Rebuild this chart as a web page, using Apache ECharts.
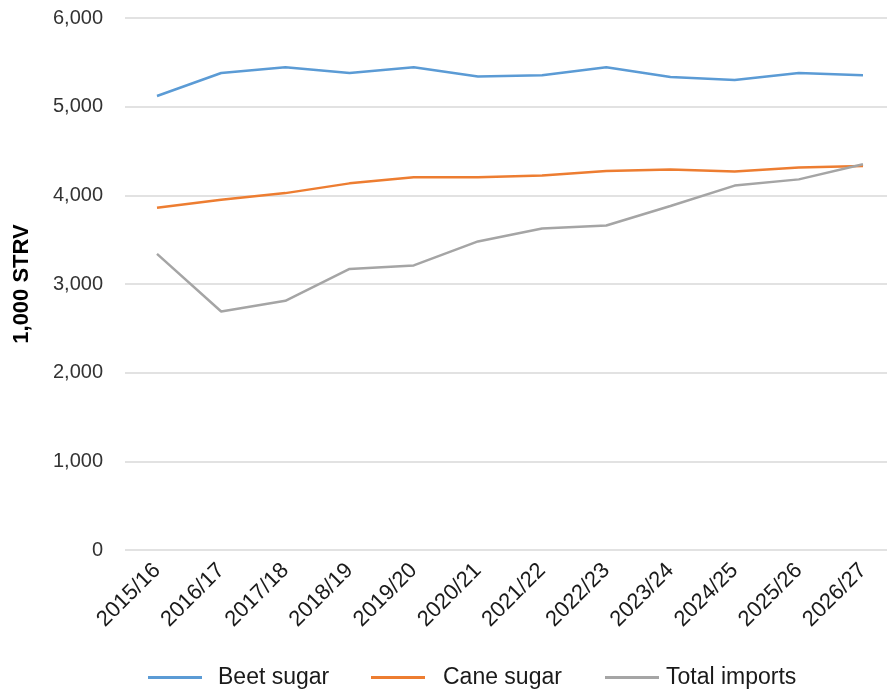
<!DOCTYPE html>
<html>
<head>
<meta charset="utf-8">
<script src="https://cdn.jsdelivr.net/npm/echarts@6/dist/echarts.min.js"></script>
<style>
  html, body { margin: 0; padding: 0; background: #ffffff; }
  #chart { width: 887px; height: 689px; }
</style>
</head>
<body>
<div id="chart"></div>
<script>
// Marketing years on the category axis
const years = ['2015/16', '2016/17', '2017/18', '2018/19', '2019/20', '2020/21',
               '2021/22', '2022/23', '2023/24', '2024/25', '2025/26', '2026/27'];

// Supply components, 1,000 short tons raw value
const beetSugar    = [5120, 5380, 5445, 5380, 5445, 5340, 5355, 5445, 5335, 5300, 5380, 5355];
const caneSugar    = [3860, 3950, 4025, 4135, 4205, 4205, 4225, 4275, 4290, 4270, 4315, 4330];
const totalImports = [3340, 2690, 2810, 3170, 3210, 3480, 3625, 3660, 3880, 4110, 4180, 4350];

// Value-axis ticks
const yTicks = [0, 1000, 2000, 3000, 4000, 5000, 6000];

const seriesNames = ['Beet sugar', 'Cane sugar', 'Total imports'];
const seriesColors = ['#5B9BD5', '#ED7D31', '#A5A5A5'];
const seriesData = [beetSugar, caneSugar, totalImports];

// Legend entries are laid out individually along the bottom
const legendLeft = [143, 366, 600];
const legendTextPad = [11, 13, 2];

const font = 'Liberation Sans, Arial, sans-serif';
const yMin = yTicks[0];
const yMax = yTicks[yTicks.length - 1];
const chart = echarts.init(document.getElementById('chart'), null, { renderer: 'canvas' });

chart.setOption({
  backgroundColor: '#ffffff',
  animation: false,
  color: seriesColors,
  textStyle: { fontFamily: font },
  grid: [
    // gridlines and value labels span the full width
    { left: 125, right: 0, top: 18, height: 532 },
    // plotting area: first and last category sit on its edges
    { left: 157, right: 24, top: 18, height: 532 }
  ],
  legend: seriesNames.map((name, i) => ({
    left: legendLeft[i],
    top: 661,
    icon: 'rect',
    itemWidth: 54,
    itemHeight: 3,
    textStyle: { fontSize: 23, color: '#1a1a1a', fontFamily: font, padding: [0, 0, 0, legendTextPad[i]] },
    data: [name]
  })),
  xAxis: [
    { gridIndex: 0, type: 'value', min: 0, max: 1, show: false },
    {
      gridIndex: 1,
      type: 'category',
      data: years,
      boundaryGap: false,
      axisLine: { show: false },
      axisTick: { show: false },
      splitLine: { show: false },
      axisLabel: {
        rotate: 45,
        interval: 0,
        margin: 17,
        fontSize: 22,
        color: '#1a1a1a',
        fontFamily: font
      }
    }
  ],
  yAxis: [
    {
      gridIndex: 0,
      type: 'value',
      min: yMin,
      max: yMax,
      interval: 1000,
      name: '1,000 STRV',
      nameLocation: 'middle',
      nameGap: 92,
      nameRotate: 90,
      nameTextStyle: { fontSize: 22, fontWeight: 'bold', color: '#000000', fontFamily: font },
      axisLine: { show: false },
      axisTick: { show: false },
      axisLabel: {
        margin: 22,
        fontSize: 20,
        color: '#333333',
        fontFamily: font,
        formatter: v => v.toLocaleString('en-US')
      },
      splitLine: { lineStyle: { color: '#d9d9d9', width: 1.5 } }
    },
    {
      gridIndex: 1,
      type: 'value',
      min: yMin,
      max: yMax,
      interval: 1000,
      show: false,
      splitLine: { show: false }
    }
  ],
  series: seriesNames.map((name, i) => ({
    name: name,
    type: 'line',
    xAxisIndex: 1,
    yAxisIndex: 1,
    data: seriesData[i],
    showSymbol: false,
    symbol: 'none',
    lineStyle: { width: 2.5, color: seriesColors[i] },
    itemStyle: { color: seriesColors[i] }
  }))
});
</script>
</body>
</html>
